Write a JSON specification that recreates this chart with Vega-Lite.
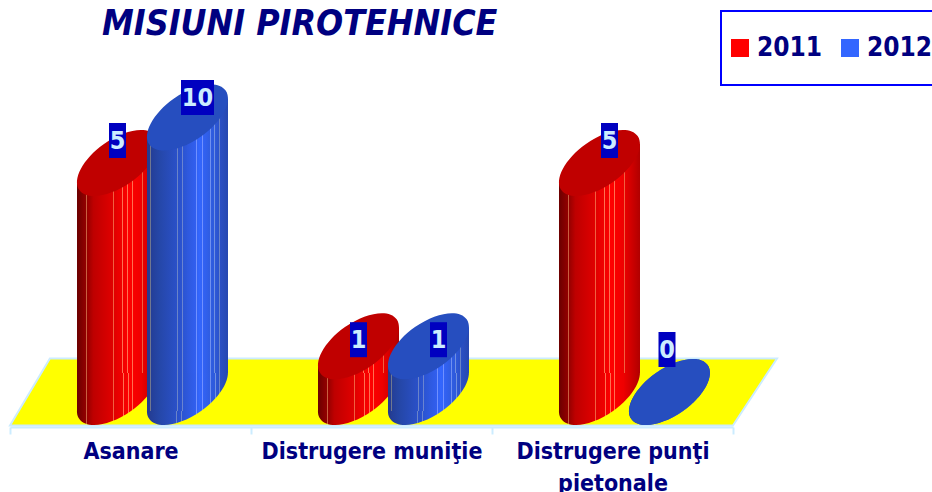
{"$schema":"https://vega.github.io/schema/vega-lite/v6.json","width":932,"height":427,"autosize":"none","padding":{"left":0,"top":0,"right":0,"bottom":65},"background":"white","view":{"stroke":null},
"title":{"text":"MISIUNI PIROTEHNICE","anchor":"start","frame":"group","dx":102,"offset":-70,"baseline":"alphabetic","font":"DejaVu Sans Condensed","fontSize":35.5,"fontWeight":"bold","fontStyle":"italic","color":"#000080"},
"config":{"legend":{"strokeWidth":2}},
"data":{"values":[
{"category":"Asanare","series":"2011","value":5},{"category":"Asanare","series":"2012","value":10},
{"category":"Distrugere muniţie","series":"2011","value":1},{"category":"Distrugere muniţie","series":"2012","value":1},
{"category":"Distrugere punţi pietonale","series":"2011","value":5},{"category":"Distrugere punţi pietonale","series":"2012","value":0}]},
"encoding":{
"x":{"field":"category","type":"nominal","title":null,"scale":{"type":"band","domain":["Asanare","Distrugere muniţie","Distrugere punţi pietonale"],"range":[10,733],"paddingInner":0,"paddingOuter":0},
"axis":{"labelAngle":0,"tickBand":"extent","domainColor":"#CCECFF","domainWidth":2,"tickColor":"#CCECFF","tickWidth":2,"tickSize":7,"labelFont":"DejaVu Sans Condensed","labelFontWeight":"bold","labelFontSize":23,"labelColor":"#000080","labelPadding":6,"labelLineHeight":32,"labelLimit":400,"labelExpr":"datum.label=='Distrugere punţi pietonale'?['Distrugere punţi','pietonale']:datum.label","grid":false}},
"xOffset":{"field":"series","type":"nominal","scale":{"type":"point","padding":0,"domain":["2011L","p1","p2","p3","p4","p5","p6","p7","2011","p9","p10","p11","p12","p13","p14","p15","2011R","p17","p18","p19","p20","p21","p22","p23","p24","p25","p26","p27","2012L","p29","p30","p31","p32","p33","p34","p35","2012","p37","p38","p39","p40","p41","p42","p43","2012R"],"range":[87.5,197.5]}},
"y":{"field":"value","type":"quantitative","title":null,"axis":null,"scale":{"domain":[0,5,10],"range":[392,163,117.5],"nice":false,"zero":false,"clamp":false}}
},
"layer":[
{"mark":{"type":"point","filled":true,"opacity":1,"fill":"#FFFF00","stroke":"#CCECFF","strokeWidth":2,"shape":"M-1 0.0873L-0.896 -0.0873L1 -0.0873L0.885 0.0873Z","size":588289},"transform":[{"filter":"datum.series=='2011'&&datum.category=='Distrugere muniţie'"}],"encoding":{"xOffset":{"datum":"p22"},"y":{"datum":0}}},
{"mark":{"type":"point","filled":true,"size":0},"encoding":{"color":{"field":"series","type":"nominal","scale":{"domain":["2011","2012"],"range":["#FF0000","#3366FF"]},"legend":{"title":null,"orient":"none","legendX":721,"legendY":11,"direction":"horizontal","columns":2,"fillColor":"white","strokeColor":"#0000FF","padding":24,"symbolType":"square","symbolSize":324,"symbolStrokeWidth":0,"symbolOpacity":1,"symbolOffset":-18,"labelFont":"DejaVu Sans Condensed","labelFontWeight":"bold","labelFontSize":26,"labelColor":"#000080","labelOffset":4,"columnPadding":18}}}},
{"transform":[{"filter":"datum.series=='2011'"}],"layer":[
{"mark":{"type":"point","filled":true,"opacity":1,"shape":"M-0.942 0.665A1.153 0.578 -35.2 1 1 0.942 -0.665A1.153 0.578 -35.2 1 1 -0.942 0.665Z","size":6561,"fill":{"gradient":"linear","x1":0,"x2":1,"y1":0,"y2":0,"stops":[{"offset":0,"color":"#6B0000"},{"offset":0.1,"color":"#900000"},{"offset":0.114,"color":"#900000"},{"offset":0.114,"color":"#C86040"},{"offset":0.126,"color":"#C86040"},{"offset":0.126,"color":"#980000"},{"offset":0.2,"color":"#BE0000"},{"offset":0.439,"color":"#E00000"},{"offset":0.439,"color":"#F06040"},{"offset":0.451,"color":"#F06040"},{"offset":0.451,"color":"#E00000"},{"offset":0.5,"color":"#E80000"},{"offset":0.564,"color":"#F00000"},{"offset":0.564,"color":"#FF7050"},{"offset":0.576,"color":"#FF7050"},{"offset":0.576,"color":"#F20000"},{"offset":0.624,"color":"#FA0000"},{"offset":0.624,"color":"#FF7050"},{"offset":0.636,"color":"#FF7050"},{"offset":0.636,"color":"#FD0000"},{"offset":0.65,"color":"#FF0000"},{"offset":0.684,"color":"#FB0000"},{"offset":0.684,"color":"#FF7050"},{"offset":0.696,"color":"#FF7050"},{"offset":0.696,"color":"#F90000"},{"offset":0.8,"color":"#EE0000"},{"offset":0.809,"color":"#EA0000"},{"offset":0.809,"color":"#F06040"},{"offset":0.821,"color":"#F06040"},{"offset":0.821,"color":"#E60000"},{"offset":1,"color":"#B00000"}]}},"encoding":{"y":{"datum":0}}},
{"mark":{"type":"bar","width":41,"yOffset":19,"y2Offset":19,"fill":{"gradient":"linear","x1":0,"x2":1,"y1":0,"y2":0,"stops":[{"offset":0,"color":"#6B0000"},{"offset":0.2,"color":"#900000"},{"offset":0.228,"color":"#900000"},{"offset":0.228,"color":"#C86040"},{"offset":0.252,"color":"#C86040"},{"offset":0.252,"color":"#980000"},{"offset":0.4,"color":"#BE0000"},{"offset":0.878,"color":"#E00000"},{"offset":0.878,"color":"#F06040"},{"offset":0.902,"color":"#F06040"},{"offset":0.902,"color":"#E00000"},{"offset":1,"color":"#E80000"}]}},"encoding":{"xOffset":{"datum":"2011L"},"y2":{"datum":0}}},
{"mark":{"type":"bar","width":41,"yOffset":-19,"y2Offset":-19,"fill":{"gradient":"linear","x1":0,"x2":1,"y1":0,"y2":0,"stops":[{"offset":0,"color":"#E80000"},{"offset":0.128,"color":"#F00000"},{"offset":0.128,"color":"#FF7050"},{"offset":0.152,"color":"#FF7050"},{"offset":0.152,"color":"#F20000"},{"offset":0.248,"color":"#FA0000"},{"offset":0.248,"color":"#FF7050"},{"offset":0.272,"color":"#FF7050"},{"offset":0.272,"color":"#FD0000"},{"offset":0.3,"color":"#FF0000"},{"offset":0.368,"color":"#FB0000"},{"offset":0.368,"color":"#FF7050"},{"offset":0.392,"color":"#FF7050"},{"offset":0.392,"color":"#F90000"},{"offset":0.6,"color":"#EE0000"},{"offset":0.618,"color":"#EA0000"},{"offset":0.618,"color":"#F06040"},{"offset":0.642,"color":"#F06040"},{"offset":0.642,"color":"#E60000"},{"offset":1,"color":"#B00000"}]}},"encoding":{"xOffset":{"datum":"2011R"},"y2":{"datum":0}}},
{"mark":{"type":"point","filled":true,"opacity":1,"fill":"#C00000","shape":"M-0.942 0.665A1.153 0.578 -35.2 1 1 0.942 -0.665A1.153 0.578 -35.2 1 1 -0.942 0.665Z","size":6561}}
]},
{"transform":[{"filter":"datum.series=='2012'"}],"layer":[
{"mark":{"type":"point","filled":true,"opacity":1,"shape":"M-0.942 0.665A1.153 0.578 -35.2 1 1 0.942 -0.665A1.153 0.578 -35.2 1 1 -0.942 0.665Z","size":6561,"fill":{"gradient":"linear","x1":0,"x2":1,"y1":0,"y2":0,"stops":[{"offset":0,"color":"#233A8F"},{"offset":0.031,"color":"#243C92"},{"offset":0.031,"color":"#707890"},{"offset":0.043,"color":"#707890"},{"offset":0.043,"color":"#243E96"},{"offset":0.15,"color":"#2547A8"},{"offset":0.364,"color":"#2A50C8"},{"offset":0.364,"color":"#6A84C8"},{"offset":0.376,"color":"#6A84C8"},{"offset":0.376,"color":"#2A50C8"},{"offset":0.424,"color":"#2B53D0"},{"offset":0.424,"color":"#6A84D0"},{"offset":0.436,"color":"#6A84D0"},{"offset":0.436,"color":"#2B54D2"},{"offset":0.5,"color":"#2E58DC"},{"offset":0.611,"color":"#315FF0"},{"offset":0.611,"color":"#7090FF"},{"offset":0.623,"color":"#7090FF"},{"offset":0.623,"color":"#3162F4"},{"offset":0.65,"color":"#3366FF"},{"offset":0.684,"color":"#3264F8"},{"offset":0.684,"color":"#7090FF"},{"offset":0.696,"color":"#7090FF"},{"offset":0.696,"color":"#3262F4"},{"offset":0.784,"color":"#2F5CE0"},{"offset":0.784,"color":"#7090F0"},{"offset":0.796,"color":"#7090F0"},{"offset":0.796,"color":"#2F5CE0"},{"offset":0.834,"color":"#2E5ADC"},{"offset":0.834,"color":"#7090E0"},{"offset":0.846,"color":"#7090E0"},{"offset":0.846,"color":"#2E58D8"},{"offset":0.894,"color":"#2B52C8"},{"offset":0.894,"color":"#6A84C8"},{"offset":0.906,"color":"#6A84C8"},{"offset":0.906,"color":"#2B50C4"},{"offset":1,"color":"#2648B0"}]}},"encoding":{"y":{"datum":0}}},
{"mark":{"type":"bar","width":41,"yOffset":19,"y2Offset":19,"fill":{"gradient":"linear","x1":0,"x2":1,"y1":0,"y2":0,"stops":[{"offset":0,"color":"#233A8F"},{"offset":0.062,"color":"#243C92"},{"offset":0.062,"color":"#707890"},{"offset":0.086,"color":"#707890"},{"offset":0.086,"color":"#243E96"},{"offset":0.3,"color":"#2547A8"},{"offset":0.728,"color":"#2A50C8"},{"offset":0.728,"color":"#6A84C8"},{"offset":0.752,"color":"#6A84C8"},{"offset":0.752,"color":"#2A50C8"},{"offset":0.848,"color":"#2B53D0"},{"offset":0.848,"color":"#6A84D0"},{"offset":0.872,"color":"#6A84D0"},{"offset":0.872,"color":"#2B54D2"},{"offset":1,"color":"#2E58DC"}]}},"encoding":{"xOffset":{"datum":"2012L"},"y2":{"datum":0}}},
{"mark":{"type":"bar","width":41,"yOffset":-19,"y2Offset":-19,"fill":{"gradient":"linear","x1":0,"x2":1,"y1":0,"y2":0,"stops":[{"offset":0,"color":"#2E58DC"},{"offset":0.222,"color":"#315FF0"},{"offset":0.222,"color":"#7090FF"},{"offset":0.246,"color":"#7090FF"},{"offset":0.246,"color":"#3162F4"},{"offset":0.3,"color":"#3366FF"},{"offset":0.368,"color":"#3264F8"},{"offset":0.368,"color":"#7090FF"},{"offset":0.392,"color":"#7090FF"},{"offset":0.392,"color":"#3262F4"},{"offset":0.568,"color":"#2F5CE0"},{"offset":0.568,"color":"#7090F0"},{"offset":0.592,"color":"#7090F0"},{"offset":0.592,"color":"#2F5CE0"},{"offset":0.668,"color":"#2E5ADC"},{"offset":0.668,"color":"#7090E0"},{"offset":0.692,"color":"#7090E0"},{"offset":0.692,"color":"#2E58D8"},{"offset":0.788,"color":"#2B52C8"},{"offset":0.788,"color":"#6A84C8"},{"offset":0.812,"color":"#6A84C8"},{"offset":0.812,"color":"#2B50C4"},{"offset":1,"color":"#2648B0"}]}},"encoding":{"xOffset":{"datum":"2012R"},"y2":{"datum":0}}},
{"mark":{"type":"point","filled":true,"opacity":1,"fill":"#264EBF","shape":"M-0.942 0.665A1.153 0.578 -35.2 1 1 0.942 -0.665A1.153 0.578 -35.2 1 1 -0.942 0.665Z","size":6561}}
]},
{"transform":[{"filter":"datum.series=='2011'&&datum.category=='Asanare'"}],"layer":[{"mark":{"type":"tick","size":17,"thickness":35,"color":"#0000C0","opacity":1,"yOffset":-22.5}},{"mark":{"type":"text","font":"DejaVu Sans Condensed","fontWeight":"bold","fontSize":25,"color":"#CCECFF","baseline":"middle","yOffset":-22.5},"encoding":{"text":{"field":"value","type":"quantitative"}}}]},
{"transform":[{"filter":"datum.series=='2011'&&datum.category=='Distrugere punţi pietonale'"}],"encoding":{"xOffset":{"datum":"p12"}},"layer":[{"mark":{"type":"tick","size":17,"thickness":35,"color":"#0000C0","opacity":1,"yOffset":-22.5}},{"mark":{"type":"text","font":"DejaVu Sans Condensed","fontWeight":"bold","fontSize":25,"color":"#CCECFF","baseline":"middle","yOffset":-22.5},"encoding":{"text":{"field":"value","type":"quantitative"}}}]},
{"transform":[{"filter":"datum.series=='2012'&&datum.category=='Asanare'"}],"encoding":{"xOffset":{"datum":"p40"}},"layer":[{"mark":{"type":"tick","size":33,"thickness":35,"color":"#0000C0","opacity":1,"yOffset":-20}},{"mark":{"type":"text","font":"DejaVu Sans Condensed","fontWeight":"bold","fontSize":25,"color":"#CCECFF","baseline":"middle","yOffset":-20},"encoding":{"text":{"field":"value","type":"quantitative"}}}]},
{"transform":[{"filter":"datum.series=='2011'&&datum.category=='Distrugere muniţie'"}],"layer":[{"mark":{"type":"tick","size":17,"thickness":35,"color":"#0000C0","opacity":1,"yOffset":-6.5}},{"mark":{"type":"text","font":"DejaVu Sans Condensed","fontWeight":"bold","fontSize":25,"color":"#CCECFF","baseline":"middle","yOffset":-6.5},"encoding":{"text":{"field":"value","type":"quantitative"}}}]},
{"transform":[{"filter":"datum.series=='2012'&&datum.category=='Distrugere muniţie'"}],"encoding":{"xOffset":{"datum":"p40"}},"layer":[{"mark":{"type":"tick","size":17,"thickness":35,"color":"#0000C0","opacity":1,"yOffset":-6.5}},{"mark":{"type":"text","font":"DejaVu Sans Condensed","fontWeight":"bold","fontSize":25,"color":"#CCECFF","baseline":"middle","yOffset":-6.5},"encoding":{"text":{"field":"value","type":"quantitative"}}}]},
{"transform":[{"filter":"datum.series=='2012'&&datum.category=='Distrugere punţi pietonale'"}],"encoding":{"xOffset":{"datum":"p35"}},"layer":[{"mark":{"type":"tick","size":17,"thickness":35,"color":"#0000C0","opacity":1,"yOffset":-42.5}},{"mark":{"type":"text","font":"DejaVu Sans Condensed","fontWeight":"bold","fontSize":25,"color":"#CCECFF","baseline":"middle","yOffset":-42.5},"encoding":{"text":{"field":"value","type":"quantitative"}}}]}
]}
